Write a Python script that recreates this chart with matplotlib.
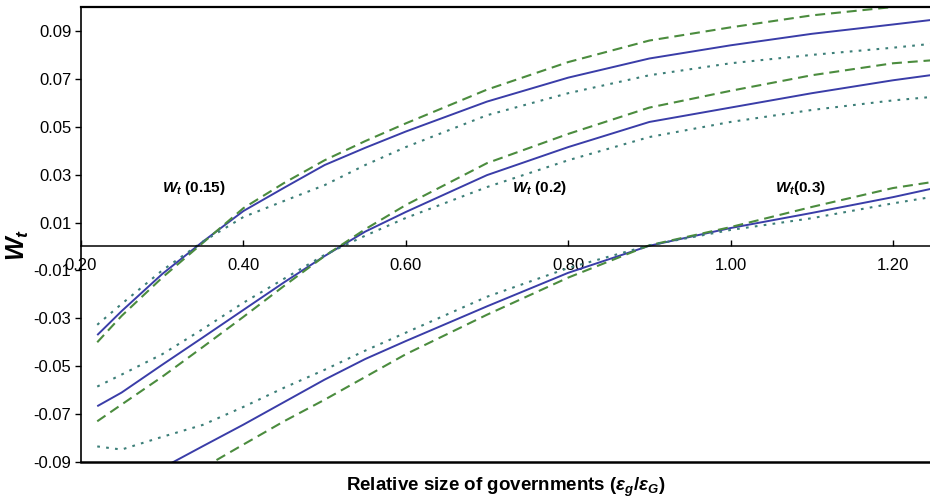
import numpy as np
import matplotlib
matplotlib.use('Agg')
import matplotlib.pyplot as plt

plt.rcParams['font.family'] = ['Liberation Sans', 'DejaVu Sans']
plt.rcParams['mathtext.fontset'] = 'custom'
plt.rcParams['mathtext.rm'] = 'Liberation Sans:bold'
plt.rcParams['mathtext.it'] = 'Liberation Sans:bold:italic'
plt.rcParams['mathtext.bf'] = 'Liberation Sans:bold'

# relative size of governments
x = [0.22, 0.25, 0.30, 0.35, 0.40, 0.45, 0.50, 0.55, 0.60, 0.70, 0.80, 0.90, 1.00, 1.10, 1.20, 1.25]
nan = np.nan

# W_t(0.15)
a_solid = [-0.037, -0.027, -0.0115, 0.002, 0.0148, 0.0245, 0.034, 0.0412, 0.048, 0.0605, 0.0705, 0.0785, 0.084, 0.0888, 0.0927, 0.0947]
a_dash = [-0.040, -0.029, -0.013, 0.0015, 0.016, 0.0265, 0.036, 0.044, 0.0514, 0.0655, 0.077, 0.086, 0.0915, 0.0965, 0.100, 0.102]
a_dot = [-0.0327, -0.024, -0.010, 0.002, 0.0123, 0.019, 0.0256, 0.034, 0.0415, 0.0548, 0.064, 0.0715, 0.0765, 0.080, 0.083, 0.0847]

# W_t(0.2)
b_solid = [-0.0667, -0.061, -0.0494, -0.038, -0.0265, -0.015, -0.004, 0.0062, 0.0144, 0.0298, 0.0415, 0.052, 0.058, 0.064, 0.0694, 0.0717]
b_dash = [-0.073, -0.066, -0.0544, -0.042, -0.0294, -0.0165, -0.004, 0.0072, 0.0173, 0.0348, 0.047, 0.058, 0.065, 0.0715, 0.0765, 0.0778]
b_dot = [-0.0585, -0.0535, -0.045, -0.0345, -0.0235, -0.0135, -0.0035, 0.0045, 0.0119, 0.0248, 0.036, 0.0457, 0.052, 0.057, 0.061, 0.0625]

# W_t(0.3)
c_solid = [nan, nan, -0.0925, -0.0834, -0.0744, -0.065, -0.0556, -0.047, -0.0395, -0.025, -0.011, 0.0003, 0.0077, 0.014, 0.0206, 0.0243]
c_dash = [nan, nan, nan, -0.0925, -0.0827, -0.073, -0.064, -0.0545, -0.045, -0.0285, -0.013, 0.0005, 0.0081, 0.0165, 0.0244, 0.027]
c_dot = [-0.0835, -0.0848, -0.0795, -0.0745, -0.067, -0.059, -0.0515, -0.0435, -0.036, -0.021, -0.009, 0.0005, 0.0069, 0.0118, 0.018, 0.0208]

xticks = [0.20, 0.40, 0.60, 0.80, 1.00, 1.20]
yticks = [0.09, 0.07, 0.05, 0.03, 0.01, -0.01, -0.03, -0.05, -0.07, -0.09]

blue = '#3a3da8'
green = '#4b8c3e'
teal = '#3c7f78'

fig = plt.figure(figsize=(9.3, 5.03), dpi=100)
ax = fig.add_axes([81 / 930, 1 - 462 / 503, 849 / 930, 455 / 503])

for ys in (a_solid, b_solid, c_solid):
    ax.plot(x, ys, color=blue, lw=1.4, solid_capstyle='butt')
for ys in (a_dash, b_dash, c_dash):
    ax.plot(x, ys, color=green, lw=1.5, dashes=(4.8, 2.8))
for ys in (a_dot, b_dot, c_dot):
    ax.plot(x, ys, color=teal, lw=1.5, dashes=(1.3, 3.0))

ax.set_xlim(0.2, 1.2456)
ax.set_ylim(-0.09, 0.10)

ax.spines['right'].set_visible(False)
ax.spines['bottom'].set_position(('data', 0))
ax.spines['bottom'].set_linewidth(1.1)
ax.spines['left'].set_linewidth(1.2)
ax.spines['top'].set_linewidth(1.6)
ax.axhline(-0.09, color='black', lw=1.8, clip_on=False)

ax.set_xticks(xticks)
ax.set_xticklabels(['%.2f' % v for v in xticks])
ax.set_yticks(yticks)
ax.set_yticklabels(['%.2f' % v for v in yticks])
ax.tick_params(axis='x', direction='in', length=4, width=1, labelsize=12, pad=8)
ax.tick_params(axis='y', direction='out', length=4, width=1, labelsize=12, pad=3)

ax.text(0.300, 0.0245, r'$W_t$ (0.15)', fontsize=11, fontweight='bold', va='center')
ax.text(0.731, 0.0245, r'$W_t$ (0.2)', fontsize=11, fontweight='bold', va='center')
ax.text(1.055, 0.0245, r'$W_t$(0.3)', fontsize=11, fontweight='bold', va='center')

fig.text(18 / 930, 1 - 245 / 503, r'$W_t$', fontsize=18, rotation=90, ha='center', va='center')
fig.text(506 / 930, 1 - 487 / 503, r'Relative size of governments ($\varepsilon_g/\varepsilon_G$)',
         fontsize=13.5, fontweight='bold', ha='center', va='center')

fig.savefig('out.png', dpi=100)
